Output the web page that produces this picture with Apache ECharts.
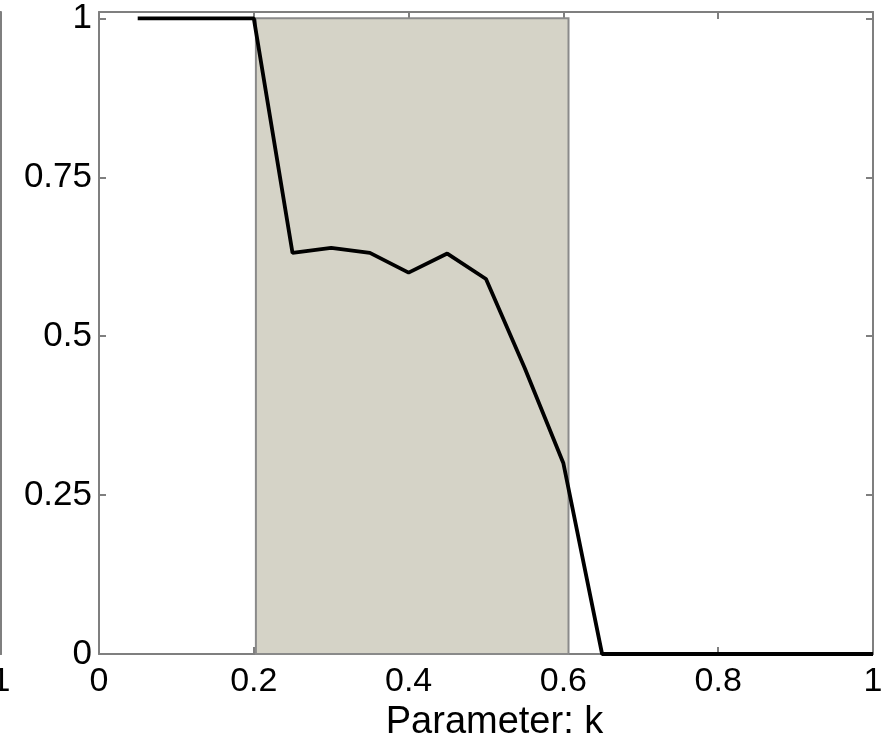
<!DOCTYPE html>
<html>
<head>
<meta charset="utf-8">
<script src="https://cdn.jsdelivr.net/npm/echarts@6/dist/echarts.min.js"></script>
<style>
html,body{margin:0;padding:0;background:#fff;}
#chart{width:883px;height:736px;}
</style>
</head>
<body>
<div id="chart"></div>
<script>
// ---- data ----
var kValues = [0.05, 0.1, 0.15, 0.2, 0.25, 0.3, 0.35, 0.4, 0.45, 0.5, 0.55, 0.6, 0.65, 0.7, 0.75, 0.8, 0.85, 0.9, 0.95, 1.0];
var ratioValues = [1, 1, 1, 1, 0.631, 0.639, 0.631, 0.600, 0.630, 0.590, 0.45, 0.30, 0, 0, 0, 0, 0, 0, 0, 0];
var shadeRange = [0.2027, 0.6066];
var shadeTop = 1;
var xTicks = [0, 0.2, 0.4, 0.6, 0.8, 1];
var yTicks = [0, 0.25, 0.5, 0.75, 1];
var xName = 'Parameter: k';

var FONT = 'Liberation Sans';
var AX = '#7f7f7f';

function fmt(list) {
  return function (v) {
    for (var i = 0; i < list.length; i++) {
      if (Math.abs(v - list[i]) < 1e-6) return String(list[i]);
    }
    return '';
  };
}

var lineData = kValues.map(function (k, i) { return [k, ratioValues[i]]; });

var chart = echarts.init(document.getElementById('chart'), null, {renderer: 'canvas'});
var axisLine = {show: true, onZero: false, lineStyle: {color: AX, width: 2}};
var tick = {show: true, inside: true, length: 7, lineStyle: {color: AX, width: 2}};

chart.setOption({
  animation: false,
  backgroundColor: '#fff',
  grid: [
    {left: 99, right: 10, top: 12, bottom: 82, containLabel: false, outerBoundsMode: 'none'},
    {left: -400, right: 882, top: 12, bottom: 82, containLabel: false, outerBoundsMode: 'none'}
  ],
  xAxis: [
    {
      type: 'value', gridIndex: 0, min: 0, max: 1, interval: 0.2, position: 'bottom',
      axisLine: axisLine, axisTick: tick, splitLine: {show: false},
      axisLabel: {formatter: fmt(xTicks), color: '#000', fontFamily: FONT, fontSize: 34, margin: 11},
      name: xName, nameLocation: 'middle', nameGap: 37,
      nameTextStyle: {color: '#000', fontFamily: FONT, fontSize: 38, padding: [0, 0, 0, 17]}
    },
    {
      type: 'value', gridIndex: 0, min: 0, max: 1, interval: 0.2, position: 'top',
      axisLine: axisLine, axisTick: tick, splitLine: {show: false}, axisLabel: {show: false}
    },
    {
      type: 'value', gridIndex: 1, min: 0, max: 1, interval: 0.2, position: 'bottom',
      axisLine: axisLine, axisTick: tick, splitLine: {show: false},
      axisLabel: {formatter: function (v) { return Math.abs(v - 1) < 1e-6 ? '1' : ''; }, color: '#000', fontFamily: FONT, fontSize: 34, margin: 11}
    }
  ],
  yAxis: [
    {
      type: 'value', gridIndex: 0, min: 0, max: 1.01, interval: 0.25, position: 'left',
      axisLine: axisLine, axisTick: tick, splitLine: {show: false},
      axisLabel: {formatter: fmt(yTicks), color: '#000', fontFamily: FONT, fontSize: 35, margin: 7}
    },
    {
      type: 'value', gridIndex: 0, min: 0, max: 1.01, interval: 0.25, position: 'right',
      axisLine: axisLine, axisTick: tick, splitLine: {show: false}, axisLabel: {show: false}
    },
    {
      type: 'value', gridIndex: 1, min: 0, max: 1.01, interval: 0.25, position: 'right',
      axisLine: axisLine, axisTick: tick, splitLine: {show: false}, axisLabel: {show: false}
    }
  ],
  series: [
    {
      type: 'line',
      xAxisIndex: 0, yAxisIndex: 0,
      data: lineData,
      showSymbol: false,
      symbol: 'none',
      z: 5,
      lineStyle: {color: '#000', width: 3.8},
      markArea: {
        silent: true,
        z: 1,
        itemStyle: {color: '#d5d3c7', borderColor: '#8a8a8a', borderWidth: 2},
        data: [[{xAxis: shadeRange[0], yAxis: 0}, {xAxis: shadeRange[1], yAxis: shadeTop}]]
      }
    }
  ]
});
</script>
</body>
</html>
